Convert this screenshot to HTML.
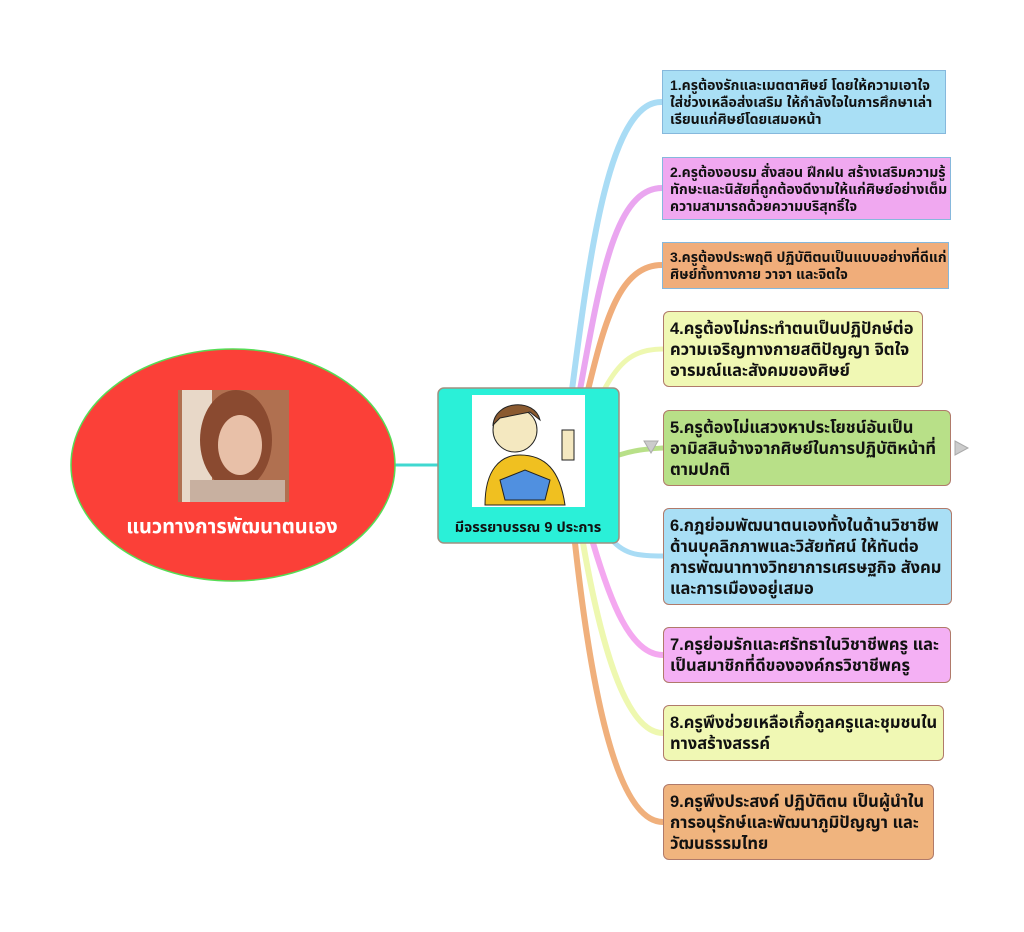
<!DOCTYPE html>
<html><head><meta charset="utf-8">
<style>
body{margin:0;width:1024px;height:932px;background:#fff;position:relative;overflow:hidden;font-family:"Liberation Sans","Noto Sans Thai","Tlwg Typist","Garuda","Loma",sans-serif;}
.b{position:absolute;box-sizing:border-box;font-weight:bold;color:#111;white-space:nowrap;overflow:hidden;}
.s{font-size:14px;line-height:17px;padding:6px 7px;border:1.5px solid #86b8dc;}
.r{font-size:16.5px;line-height:21px;padding:7px 6px;border:1.5px solid #b07a6a;border-radius:6px;}
</style></head><body>
<svg width="1024" height="932" style="position:absolute;left:0;top:0">
<g fill="none" stroke-linecap="round">
<path d="M572 390 C590 250 610 100 662 102" stroke="#a9dcf5" stroke-width="6"/>
<path d="M580 390 C600 280 615 188 662 188" stroke="#eaa6f0" stroke-width="6"/>
<path d="M588 390 C605 320 620 265 662 265" stroke="#f0ad7a" stroke-width="6"/>
<path d="M604 390 C620 360 635 349 663 349" stroke="#eef8b0" stroke-width="5"/>
<path d="M619 455 C635 450 645 449 663 448" stroke="#b8e088" stroke-width="5"/>
<path d="M612 540 C625 555 640 556 663 556" stroke="#a9dcf5" stroke-width="5"/>
<path d="M593 543 C610 600 630 655 663 655" stroke="#f4a8f0" stroke-width="6"/>
<path d="M583 543 C600 640 625 733 663 733" stroke="#eef8b0" stroke-width="6"/>
<path d="M575 543 C590 680 615 822 663 822" stroke="#f0b07c" stroke-width="6"/>
<path d="M395 465 L438 465" stroke="#40d8d0" stroke-width="3"/>
</g>
<ellipse cx="233" cy="465" rx="162" ry="116" fill="#fb4038" stroke="#55dd55" stroke-width="1.5"/>
<rect x="178" y="390" width="111" height="112" fill="#b07050"/>
<rect x="182" y="390" width="30" height="112" fill="#e8d8c8"/>
<ellipse cx="236" cy="440" rx="36" ry="50" fill="#8a4a30"/>
<ellipse cx="240" cy="445" rx="22" ry="30" fill="#e8c0a8"/>
<rect x="190" y="480" width="95" height="22" fill="#c8b0a0"/>
<text x="232" y="533" fill="#fff" font-size="20" font-weight="bold" text-anchor="middle">แนวทางการพัฒนาตนเอง</text>
<rect x="438" y="388" width="181" height="155" rx="6" fill="#2af0d8" stroke="#a09080" stroke-width="1.5"/>
<rect x="472" y="395" width="113" height="112" fill="#fff"/>
<circle cx="515" cy="430" r="22" fill="#f4e8c0" stroke="#222"/>
<path d="M493 425 C495 400 535 398 540 420 L530 412 L500 418 Z" fill="#8a5a30" stroke="#222"/>
<path d="M485 505 C485 470 500 455 520 455 C545 455 560 470 565 505 Z" fill="#f0c020" stroke="#222"/>
<path d="M500 480 L525 470 L550 480 L545 500 L505 500 Z" fill="#5090e0" stroke="#222"/>
<rect x="562" y="430" width="12" height="30" fill="#f4e8c0" stroke="#222"/>
<text x="528" y="532" fill="#111" font-size="14.5" font-weight="bold" text-anchor="middle">มีจรรยาบรรณ 9 ประการ</text>
<polygon points="644,441 658,441 651,453" fill="#ccc" stroke="#aaa"/>
<polygon points="955,441 968,448 955,455" fill="#ccc" stroke="#aaa"/>
</svg>
<div class="b s" style="left:662px;top:70px;width:284px;height:64px;background:#a9dff5">1.ครูต้องรักและเมตตาศิษย์ โดยให้ความเอาใจ<br>ใส่ช่วงเหลือส่งเสริม ให้กำลังใจในการศึกษาเล่า<br>เรียนแก่ศิษย์โดยเสมอหน้า</div>
<div class="b s" style="left:662px;top:157px;width:289px;height:63px;background:#f0a8f0">2.ครูต้องอบรม สั่งสอน ฝึกฝน สร้างเสริมความรู้<br>ทักษะและนิสัยที่ถูกต้องดีงามให้แก่ศิษย์อย่างเต็ม<br>ความสามารถด้วยความบริสุทธิ์ใจ</div>
<div class="b s" style="left:662px;top:242px;width:287px;height:47px;background:#f0ad7a">3.ครูต้องประพฤติ ปฏิบัติตนเป็นแบบอย่างที่ดีแก่<br>ศิษย์ทั้งทางกาย วาจา และจิตใจ</div>
<div class="b r" style="left:663px;top:311px;width:260px;height:76px;background:#f0f8b4">4.ครูต้องไม่กระทำตนเป็นปฏิปักษ์ต่อ<br>ความเจริญทางกายสติปัญญา จิตใจ<br>อารมณ์และสังคมของศิษย์</div>
<div class="b r" style="left:663px;top:410px;width:288px;height:76px;background:#b8e088">5.ครูต้องไม่แสวงหาประโยชน์อันเป็น<br>อามิสสินจ้างจากศิษย์ในการปฏิบัติหน้าที่<br>ตามปกติ</div>
<div class="b r" style="left:663px;top:508px;width:289px;height:97px;background:#a9dff5">6.กฎย่อมพัฒนาตนเองทั้งในด้านวิชาชีพ<br>ด้านบุคลิกภาพและวิสัยทัศน์ ให้ทันต่อ<br>การพัฒนาทางวิทยาการเศรษฐกิจ สังคม<br>และการเมืองอยู่เสมอ</div>
<div class="b r" style="left:663px;top:627px;width:288px;height:56px;background:#f4b0f4">7.ครูย่อมรักและศรัทธาในวิชาชีพครู และ<br>เป็นสมาชิกที่ดีขององค์กรวิชาชีพครู</div>
<div class="b r" style="left:663px;top:705px;width:281px;height:56px;background:#f0f8b4">8.ครูพึงช่วยเหลือเกื้อกูลครูและชุมชนใน<br>ทางสร้างสรรค์</div>
<div class="b r" style="left:663px;top:784px;width:271px;height:76px;background:#f0b47e">9.ครูพึงประสงค์ ปฏิบัติตน เป็นผู้นำใน<br>การอนุรักษ์และพัฒนาภูมิปัญญา และ<br>วัฒนธรรมไทย</div>
</body></html>
